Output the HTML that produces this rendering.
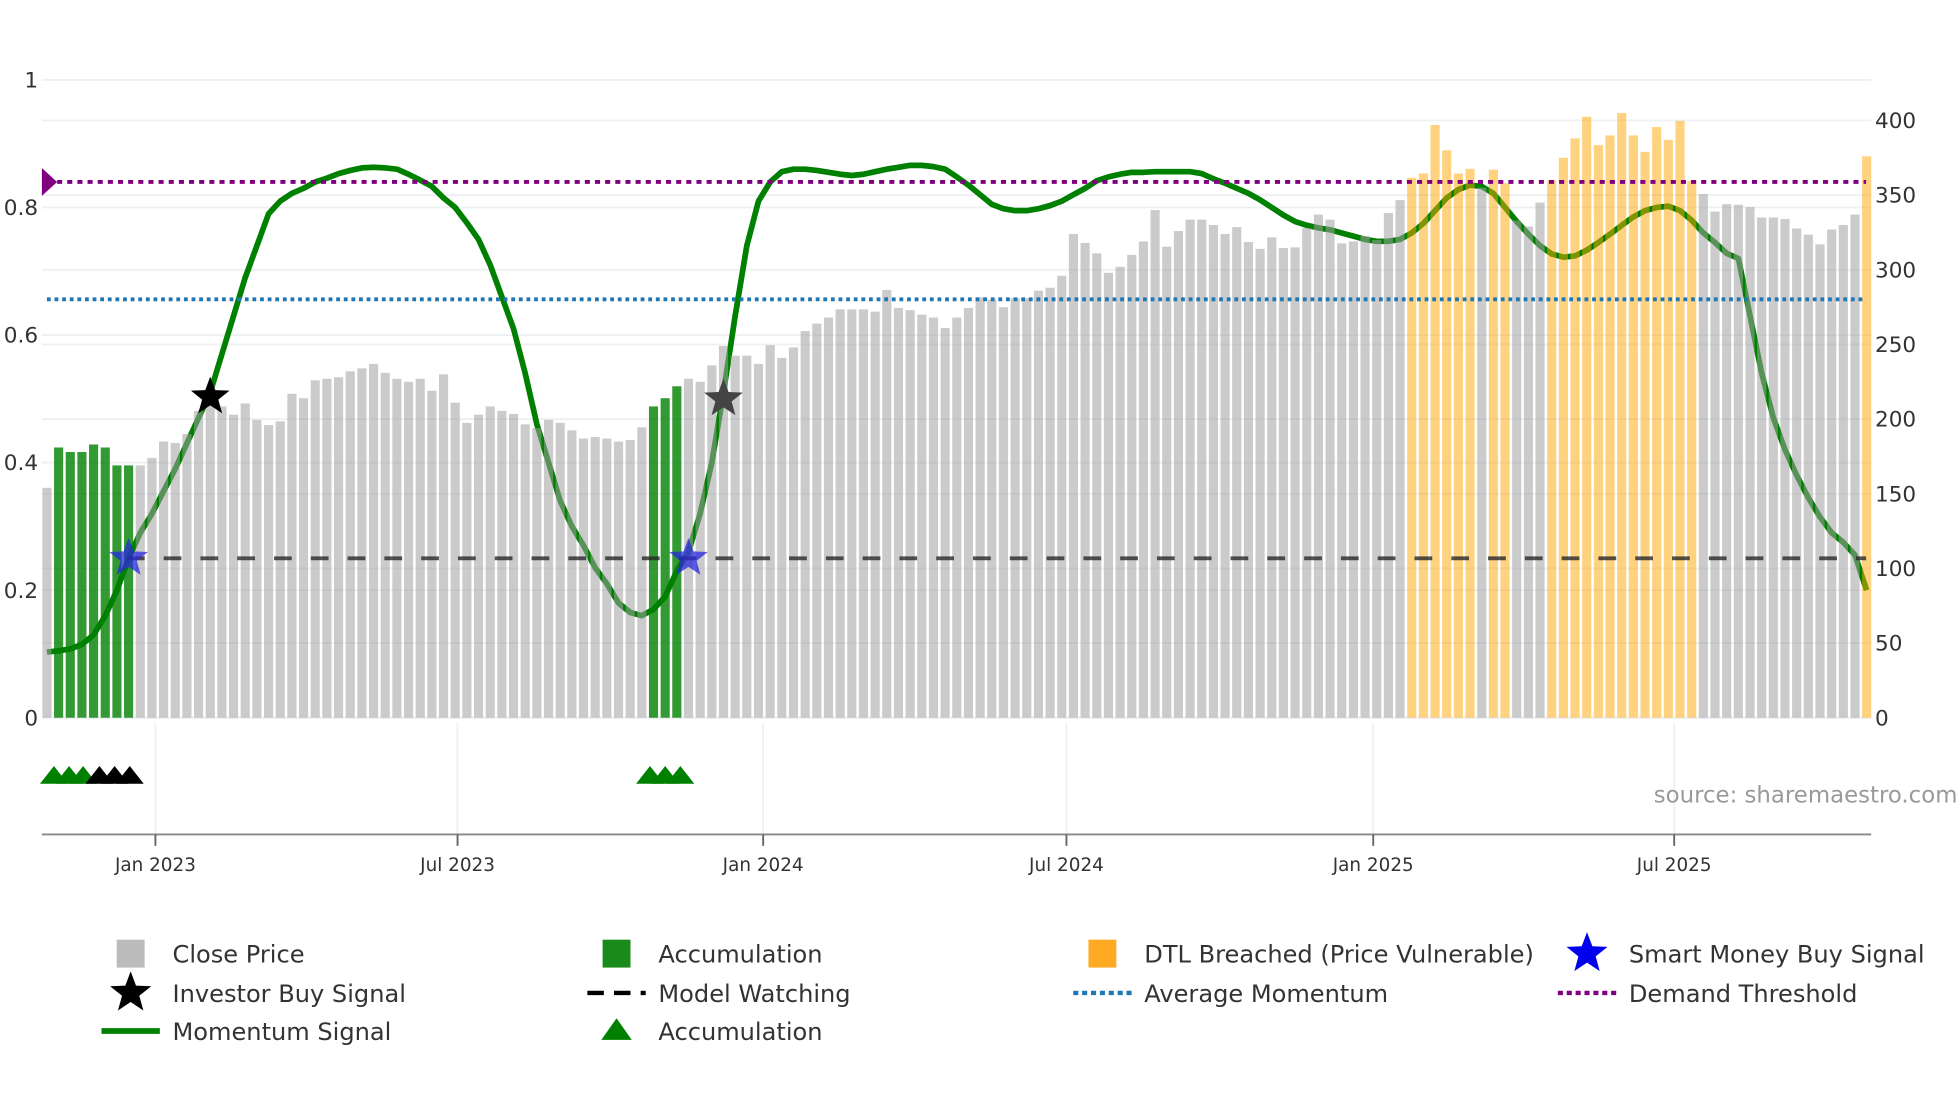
<!DOCTYPE html>
<html><head><meta charset="utf-8"><style>
html,body{margin:0;padding:0;background:#fff;}
svg{display:block;font-family:"DejaVu Sans","Liberation Sans",sans-serif;}
</style></head><body>
<svg id="chart" width="1960" height="1102" viewBox="0 0 1545 869" preserveAspectRatio="none" xmlns="http://www.w3.org/2000/svg">
<g id="grid"></g>
<g id="lower"></g>
<g id="momentum"></g>
<g id="bars"></g>
<g id="refs"></g>
<g id="markers"></g>
<g id="axes"></g>
<text x="1543" y="633" text-anchor="end" font-size="18" fill="#999">source: sharemaestro.com</text>
<g id="legend"></g>
</svg>
<script>
const prices = [154,181,178,178,183,181,169,169,169,174,185,184,190,205.5,209.5,208.5,203,210.5,199.5,196,198.5,217,214,226,227,228,232,234,237,231,227,225,227,219,230,211,197.5,203,208.5,205.5,203.5,
196.5,194,199.5,197.5,192.5,187,188,187,185,186,194.5,208.5,214,222,227,225,236,249,242.5,242.5,237,249.5,241,248,259,264,268,273.5,273.5,273.5,272,286.5,274.5,273,270,268,261,268,274.5,281.5,
280,275,281,281,286,288,296,324,318,311,298,302,310,319,340,315.5,326,333.6,333.6,330,324,328.6,318.6,314,321.7,314.6,315,328,337,333.6,317.7,319,322.7,320,338,346.7,361.6,364.5,397,380,
364.5,367.6,355,367,358,333,329,345,360,375,388,402.5,383.5,390,405,390,379,395.6,387,399.7,359.5,350.7,339,344,343.6,342,335,335,334,327.7,323.6,317,327,330,337,376];
const barState = "gaaaaaaaggggggggggggggggggggggggggggggggggggggggggggaaaggggggggggggggggggggggggggggggggggggggggggggggggggggggggggggggddddddgddgggdddddddddddddggggggggggggggd";
const momentum = [.103,.105,.108,.115,.13,.16,.20,.25,.29,.32,.355,.39,.43,.47,.51,.57,.63,.69,.74,.79,.81,.822,.83,.84,.846,.853,.858,.862,.863,.862,.86,.852,.843,.833,.815,.80,.776,.75,.71,.66,.61,.54,.46,.40,.34,.30,.27,.235,.21,.18,.165,.16,.17,.19,.23,.26,.32,.40,.51,.63,.74,.81,.84,.856,.86,.86,.858,.855,.852,.85,.852,.856,.86,.863,.866,.866,.864,.86,.848,.835,.82,.805,.798,.795,.795,.798,.803,.81,.82,.83,.842,.848,.852,.855,.855,.856,.856,.856,.856,.853,.845,.838,.83,.822,.812,.80,.788,.778,.772,.768,.765,.76,.755,.75,.747,.747,.75,.76,.775,.795,.815,.828,.835,.833,.822,.80,.778,.758,.74,.727,.722,.724,.733,.745,.758,.772,.785,.795,.80,.802,.795,.78,.76,.745,.728,.72,.63,.54,.47,.42,.38,.345,.315,.29,.275,.255,.20];
const investorStars = [14,58];
const investorValues = [0.503,0.50];
const smartStars = [7,55];
const smartValues = [0.25,0.25];
const accTriangles = [0.6,1.9,3.1,51.7,53,54.3];
const blackTriangles = [4.5,5.8,7.1];
const demandThreshold = 0.84, avgMomentum = 0.656, modelWatching = 0.25;
const leftTicks = [0,0.2,0.4,0.6,0.8,1];
const leftTickLabels = ["0","0.2","0.4","0.6","0.8","1"];
const rightTicks = [0,50,100,150,200,250,300,350,400];
const dateTickBars = [9.3,35.2,61.4,87.4,113.7,139.5];
const dateTickLabels = ["Jan 2023","Jul 2023","Jan 2024","Jul 2024","Jan 2025","Jul 2025"];

const NS="http://www.w3.org/2000/svg";
const X0=37, DX=9.195, Y0=566;
const xB = i => X0 + i*DX;
const yL = v => Y0 - v*503;
const yR = v => Y0 - v*(471/400);
function mk(tag, attrs, parent){const e=document.createElementNS(NS,tag);for(const k in attrs)e.setAttribute(k,attrs[k]);parent.appendChild(e);return e;}
function starPath(cx,cy,R){const r=R*0.42;let d="";for(let k=0;k<10;k++){const a=-Math.PI/2+k*Math.PI/5;const rr=k%2?r:R;d+=(k?"L":"M")+(cx+rr*Math.cos(a)).toFixed(1)+","+(cy+rr*Math.sin(a)).toFixed(1);}return d+"Z";}

const grid=document.getElementById('grid');
rightTicks.forEach(t=>{const l=mk('line',{x1:33,x2:1475,y1:yR(t),y2:yR(t),stroke:'#eef0f4','stroke-width':1.5},grid);

});
leftTicks.forEach(t=>{const l=mk('line',{x1:33,x2:1475,y1:yL(t),y2:yL(t),stroke:'#eef0f4','stroke-width':1.5},grid);

});

const lower=document.getElementById('lower');
dateTickBars.forEach(b=>{const l=mk('line',{x1:xB(b),x2:xB(b),y1:570,y2:658,stroke:'#eef0f4','stroke-width':1.5},lower);

});

const mom=document.getElementById('momentum');
const mp=mk('path',{d:momentum.map((v,i)=>(i?"L":"M")+xB(i).toFixed(1)+","+yL(v).toFixed(1)).join(""),fill:'none',stroke:'#008000','stroke-width':4.5,'stroke-linejoin':'round'},mom);



const bars=document.getElementById('bars');
const colors={g:'rgba(160,160,160,0.55)',a:'rgba(0,128,0,0.8)',d:'rgba(255,165,0,0.5)'};
prices.forEach((p,i)=>{const r=mk('rect',{x:xB(i)-3.6,y:yR(p),width:7.2,height:Y0-yR(p),fill:colors[barState[i]]},bars);

});

const refs=document.getElementById('refs');
let l1=mk('line',{x1:37,x2:1471,y1:yL(demandThreshold),y2:yL(demandThreshold),stroke:'#800080','stroke-width':3,'stroke-dasharray':'4 4'},refs);


let dm=mk('path',{d:`M33,${yL(demandThreshold)-11}L45,${yL(demandThreshold)}L33,${yL(demandThreshold)+11}Z`,fill:'#800080'},refs);


let l2=mk('line',{x1:37,x2:1471,y1:yL(avgMomentum),y2:yL(avgMomentum),stroke:'#1f77b4','stroke-width':3,'stroke-dasharray':'3 3'},refs);


let l3=mk('line',{x1:100,x2:1471,y1:yL(modelWatching),y2:yL(modelWatching),stroke:'rgba(40,40,40,0.8)','stroke-width':3,'stroke-dasharray':'14 15'},refs);



const markers=document.getElementById('markers');
investorStars.forEach((b,k)=>{const s=mk('path',{d:starPath(xB(b),yL(investorValues[k]),16),fill:k?'#444':'#000'},markers);

});
smartStars.forEach((b,k)=>{const s=mk('path',{d:starPath(xB(b),yL(smartValues[k]),16),fill:'rgba(40,40,220,0.75)'},markers);

});
function tri(b,col){const x=xB(b);const t=mk('path',{d:`M${x-11},618L${x},604L${x+11},618Z`,fill:col},markers);return t;}
accTriangles.forEach(b=>{const t=tri(b,'#008000');

});
blackTriangles.forEach(b=>{const t=tri(b,'#000');

});

const axes=document.getElementById('axes');
let ax=mk('line',{x1:33,x2:1475,y1:658,y2:658,stroke:'#888','stroke-width':1.5},axes);


dateTickBars.forEach((b,k)=>{const t=mk('line',{x1:xB(b),x2:xB(b),y1:658,y2:667,stroke:'#666','stroke-width':1.5},axes);


const tx=mk('text',{x:xB(b),y:687,'text-anchor':'middle','font-size':14.5,fill:'#333'},axes);tx.textContent=dateTickLabels[k];

});
leftTicks.forEach((t,k)=>{const tx=mk('text',{x:30,y:yL(t)+6,'text-anchor':'end','font-size':17,fill:'#333'},axes);tx.textContent=leftTickLabels[k];

});
rightTicks.forEach(t=>{const tx=mk('text',{x:1478,y:yR(t)+6,'font-size':17,fill:'#333'},axes);tx.textContent=String(t);

});

const legend=document.getElementById('legend');
const legItems=[
 [103,752,'sq','#bbb','Close Price'],[486,752,'sq','#1a8a1a','Accumulation'],[869,752,'sq','#ffaa22','DTL Breached (Price Vulnerable)'],[1251,752,'star','#0000ee','Smart Money Buy Signal'],
 [103,783,'star','#000','Investor Buy Signal'],[486,783,'dash','#000','Model Watching'],[869,783,'dot','#1f77b4','Average Momentum'],[1251,783,'dot','#800080','Demand Threshold'],
 [103,813,'line','#008000','Momentum Signal'],[486,813,'tri','#008000','Accumulation']];
legItems.forEach(([x,y,kind,col,label])=>{
 let ic;
 if(kind==='sq') ic=mk('rect',{x:x-11,y:y-11,width:22,height:22,fill:col},legend);
 else if(kind==='star') ic=mk('path',{d:starPath(x,y,17),fill:col},legend);
 else if(kind==='tri') ic=mk('path',{d:`M${x-12},${y+7}L${x},${y-10}L${x+12},${y+7}Z`,fill:col},legend);
 else if(kind==='line') ic=mk('line',{x1:x-23,x2:x+23,y1:y,y2:y,stroke:col,'stroke-width':4.5},legend);
 else if(kind==='dash') ic=mk('line',{x1:x-23,x2:x+23,y1:y,y2:y,stroke:col,'stroke-width':3.5,'stroke-dasharray':'13 8'},legend);
 else ic=mk('line',{x1:x-23,x2:x+23,y1:y,y2:y,stroke:col,'stroke-width':3.5,'stroke-dasharray':'4 3'},legend);
 
 
 const t=mk('text',{x:x+33,y:y+7,'font-size':19,fill:'#333'},legend);t.textContent=label;
 
 
});
</script>
</body></html>
